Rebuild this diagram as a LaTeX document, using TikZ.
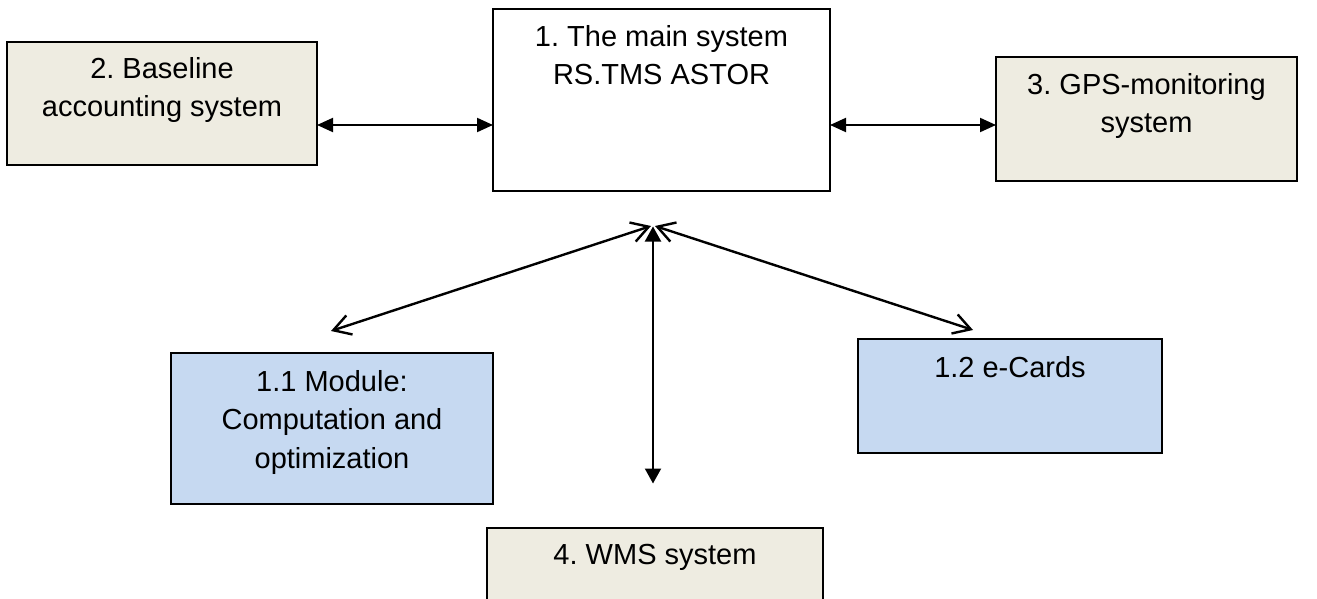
\documentclass[tikz,border=0pt]{standalone}
\usepackage{fontspec}
\setmainfont{Liberation Sans}
\usetikzlibrary{arrows.meta, positioning}
\frenchspacing

\definecolor{tanfill}{HTML}{EEECE1}
\definecolor{bluefill}{HTML}{C6D9F1}

\begin{document}
\begin{tikzpicture}[x=0.5pt, y=-0.5pt,
    sysbox/.style={draw, line width=0.9pt, inner sep=0pt, outer sep=0pt, anchor=north west},
    tanbox/.style={sysbox, fill=tanfill},
    bluebox/.style={sysbox, fill=bluefill},
    boxtext/.style={inner sep=0pt, align=center, font=\fontsize{14.5}{19.2}\selectfont},
    filledlink/.style={line width=1pt, {Triangle[length=8pt, width=7pt]}-{Triangle[length=8pt, width=7pt]}},
    openlink/.style={line width=1.2pt, {Straight Barb[length=8.5pt, width=10pt]}-{Straight Barb[length=8.5pt, width=10pt]}}]
\clip (0,0) rectangle (1317,599);

% system boxes
\node[sysbox, minimum width=168.5pt, minimum height=91pt] (main) at (493,9) {};
\node[tanbox, minimum width=155pt, minimum height=61.5pt] (base) at (7,42) {};
\node[tanbox, minimum width=150.5pt, minimum height=62pt] (gps) at (996,57) {};
\node[bluebox, minimum width=161pt, minimum height=75.5pt] (mod) at (171,353) {};
\node[bluebox, minimum width=152pt, minimum height=57pt] (cards) at (858,339) {};
\node[tanbox, minimum width=168pt, minimum height=60pt] (wms) at (487,528) {};

% box texts
\node[boxtext, below=8pt of main.north] (maintxt) {1. The main system\\RS.TMS ASTOR};
\node[boxtext, below=7.5pt of base.north] (basetxt) {2. Baseline\\accounting system};
\node[boxtext, below=8pt of gps.north] (gpstxt) {3. GPS-monitoring\\system};
\node[boxtext, below=8.5pt of mod.north] (modtxt) {1.1 Module:\\Computation and\\optimization};
\node[boxtext, below=8.3pt of cards.north] (cardstxt) {1.2 e-Cards};
\node[boxtext, below=7.8pt of wms.north] (wmstxt) {4. WMS system};

% connector ends
\coordinate (row) at (0,125);
\coordinate (hubl) at (651,226);
\coordinate (hubr) at (655,226);
\coordinate (hub) at (653,226.5);
\coordinate (modend) at (331,331);
\coordinate (cardend) at (973,330);
\coordinate (wmsend) at (653,483.5);

% links
\draw[filledlink] (base.east |- row) -- (main.west |- row);
\draw[filledlink] (main.east |- row) -- (gps.west |- row);
\draw[line width=1pt, {Triangle[length=7.5pt, width=8pt]}-{Triangle[length=7.5pt, width=8pt]}] (hub) -- (wmsend);
\draw[openlink] (hubl) -- (modend);
\draw[openlink] (hubr) -- (cardend);

\end{tikzpicture}
\end{document}
